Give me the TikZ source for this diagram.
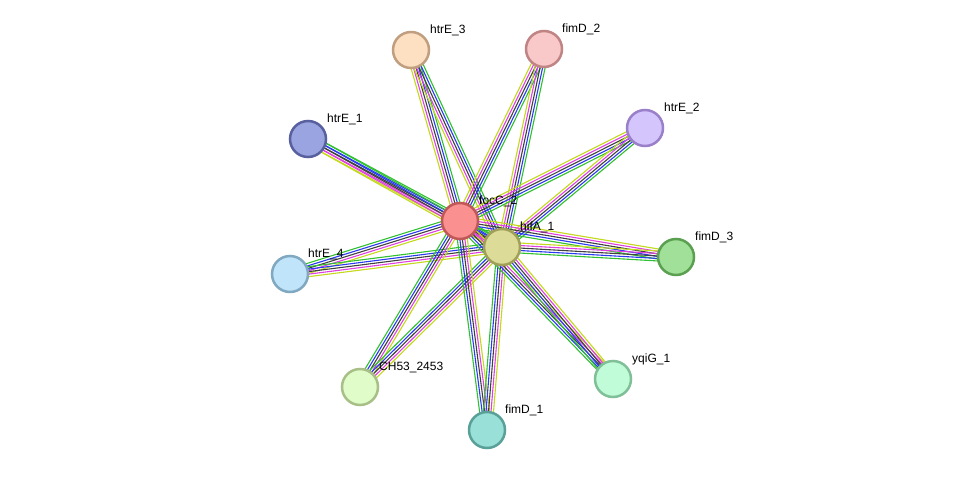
\documentclass[tikz,border=0pt]{standalone}
\usepackage{fontspec}
\setmainfont{Liberation Sans}
\usetikzlibrary{calc}
\pgfdeclarelayer{edges}
\pgfsetlayers{edges,main}
\definecolor{ey}{HTML}{C4D81C}
\definecolor{em}{HTML}{E040E0}
\definecolor{ek}{HTML}{404040}
\definecolor{eb}{HTML}{2A3AF0}
\definecolor{eg}{HTML}{30C030}
\definecolor{bhtrEiii}{HTML}{BF9F80}\definecolor{fhtrEiii}{HTML}{FDDFC2}
\definecolor{bfimDii}{HTML}{C08484}\definecolor{ffimDii}{HTML}{F9C8C8}
\definecolor{bhtrEii}{HTML}{9A80C8}\definecolor{fhtrEii}{HTML}{D4C6FC}
\definecolor{bhtrEi}{HTML}{5860A0}\definecolor{fhtrEi}{HTML}{9AA4E0}
\definecolor{bfocC}{HTML}{C05858}\definecolor{ffocC}{HTML}{FA9090}
\definecolor{bhifA}{HTML}{A0A058}\definecolor{fhifA}{HTML}{DCDB98}
\definecolor{bfimDiii}{HTML}{5AA050}\definecolor{ffimDiii}{HTML}{A0E098}
\definecolor{bhtrEiv}{HTML}{80A8C0}\definecolor{fhtrEiv}{HTML}{C0E4FA}
\definecolor{bCH}{HTML}{A8C088}\definecolor{fCH}{HTML}{E0FCC8}
\definecolor{bfimDi}{HTML}{58A098}\definecolor{ffimDi}{HTML}{98E0D8}
\definecolor{byqiG}{HTML}{80C098}\definecolor{fyqiG}{HTML}{C0FCD8}
\tikzset{
  prot/.style={circle, minimum size=36pt, inner sep=0pt, line width=2.5pt, draw=b#1, fill=f#1},
  lbl/.style={anchor=west, font=\fontsize{12}{14}\selectfont, text=black, inner sep=0pt},
  eline/.style={line width=1.1pt}
}
\newcommand{\bundle}[2]{%
  \foreach \o/\c in {-5/ey,-2.5/em,0/ek,2.5/eb,5/eg}{%
    \draw[eline,\c] ($(#1.center)!\o pt!90:(#2.center)$) -- ($(#2.center)!\o pt!-90:(#1.center)$);
  }%
}
\begin{document}
\begin{tikzpicture}[x=1pt,y=-1pt]
\useasboundingbox (0,0) rectangle (976,476);
% nodes
\node[prot=htrEiii] (htrE3) at (411,50) {};
\node[prot=fimDii] (fimD2) at (544,49) {};
\node[prot=htrEii] (htrE2) at (645,128) {};
\node[prot=htrEi] (htrE1) at (308,139) {};
\node[prot=focC] (focC2) at (460,221) {};
\node[prot=hifA] (hifA1) at (502,247) {};
\node[prot=fimDiii] (fimD3) at (676,257) {};
\node[prot=htrEiv] (htrE4) at (290,274) {};
\node[prot=CH] (CH53) at (360,387) {};
\node[prot=fimDi] (fimD1) at (487,430) {};
\node[prot=yqiG] (yqiG1) at (613,379) {};
% labels
\node[lbl] (l-htrE3) at (430,30) {htrE\_3};
\node[lbl] (l-fimD2) at (562,29) {fimD\_2};
\node[lbl] (l-htrE2) at (664,108) {htrE\_2};
\node[lbl] (l-htrE1) at (327,119) {htrE\_1};
\node[lbl] (l-focC2) at (479,201) {focC\_2};
\node[lbl] (l-hifA1) at (520,227) {hifA\_1};
\node[lbl] (l-fimD3) at (695,237) {fimD\_3};
\node[lbl] (l-htrE4) at (308,254) {htrE\_4};
\node[lbl] (l-CH53) at (379,367) {CH53\_2453};
\node[lbl] (l-fimD1) at (505,410) {fimD\_1};
\node[lbl] (l-yqiG1) at (632,359) {yqiG\_1};
% edges
\begin{pgfonlayer}{edges}
\fill[white] (0,0) rectangle (976,476);
\bundle{focC2}{hifA1}
\foreach \n in {htrE3,fimD2,htrE2,htrE1,fimD3,htrE4,CH53,fimD1,yqiG1}{
  \bundle{\n}{focC2}
  \bundle{\n}{hifA1}
}
\end{pgfonlayer}
\end{tikzpicture}
\end{document}
